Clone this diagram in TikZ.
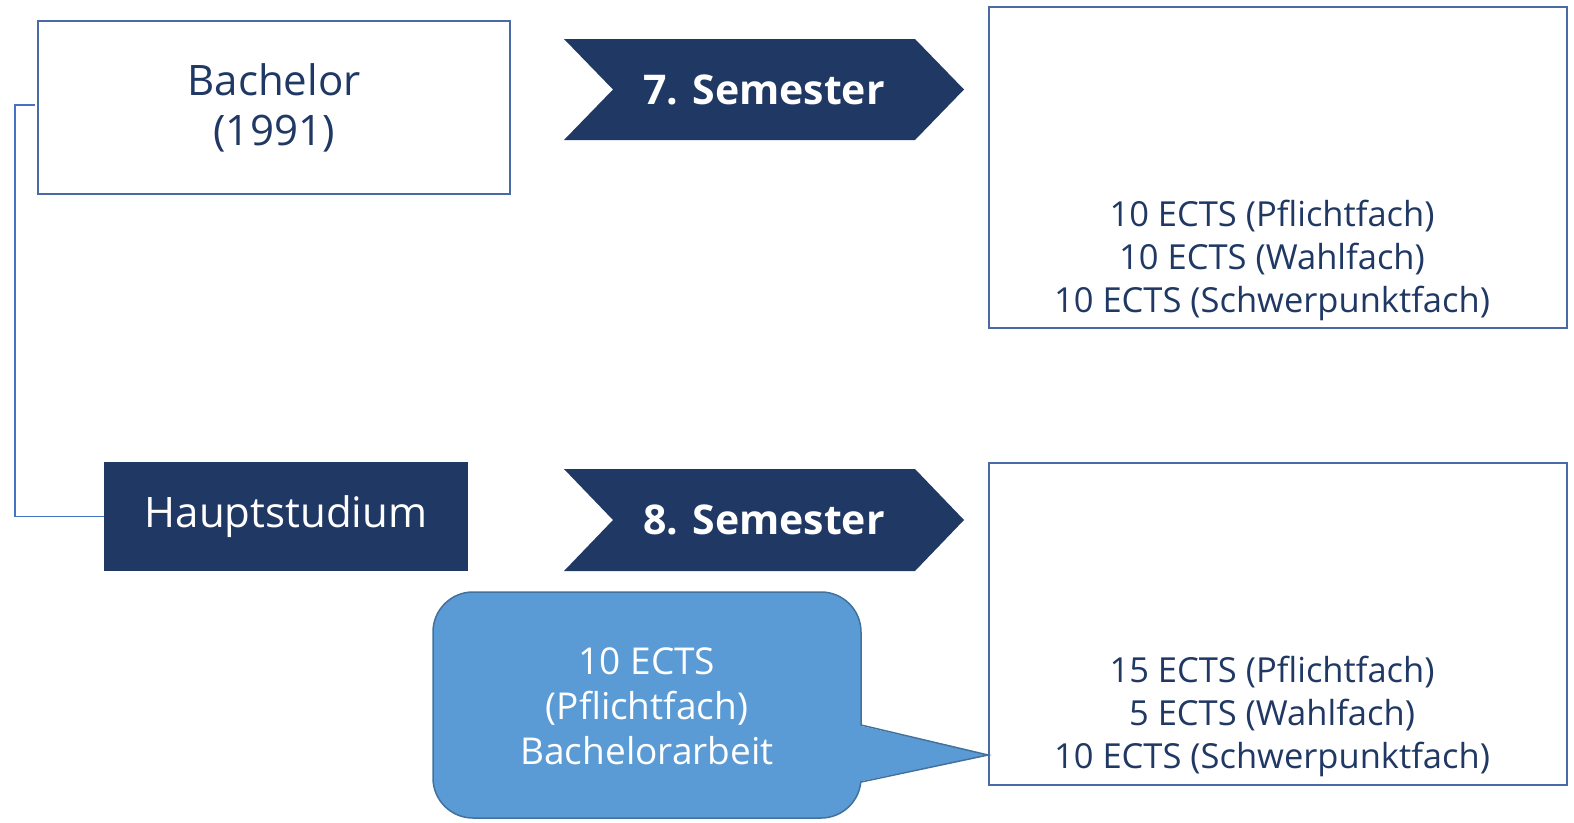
\documentclass[tikz,border=0pt]{standalone}
\usepackage{fontspec}
\setmainfont{Open Sans}
\definecolor{navy}{HTML}{203864}
\definecolor{boxline}{HTML}{4A6AA5}
\definecolor{conline}{HTML}{4472C4}
\definecolor{calfill}{HTML}{5B9BD5}
\definecolor{calline}{HTML}{41719C}
\begin{document}
\begin{tikzpicture}[x=1pt,y=-1pt,
  whitebox/.style={draw=boxline,line width=1.8pt,fill=white,inner sep=0pt},
  navybox/.style={fill=navy,inner sep=0pt,text=white},
  chev/.style={fill=navy},
  chevtext/.style={text=white,font=\fontsize{41}{50}\selectfont\bfseries},
  ectstext/.style={text=navy,align=center,font=\fontsize{34.5}{43}\selectfont},
  connector/.style={draw=conline,line width=1.8pt}]
\useasboundingbox (0,0) rectangle (1574,822);

% Bachelor box
\node[whitebox,minimum width=472pt,minimum height=173pt,text=navy,align=center,
      font=\fontsize{42}{50}\selectfont] (bach) at (274,107.5) {Bachelor\\(1991)};

% Hauptstudium
\node[navybox,minimum width=364pt,minimum height=109pt,
      font=\fontsize{42}{50}\selectfont] (haupt) at (286,516.5) {Hauptstudium};

% connector
\coordinate (cturn) at (15,105);
\draw[connector] (35,105) coordinate (cstart) -- (cturn) |- (haupt.west);

% chevrons
\fill[chev] (564,39) -- (915,39) -- (964,89.5) -- (915,140) -- (564,140) -- (613,89.5) -- cycle;
\node[chevtext] (sem7) at (764,89.5) {7. Semester};
\fill[chev] (564,469) -- (915,469) -- (964,520) -- (915,571) -- (564,571) -- (613,520) -- cycle;
\node[chevtext] (sem8) at (764,520) {8. Semester};

% right boxes
\node[whitebox,minimum width=578pt,minimum height=321pt] (box7) at (1278,167.5) {};
\node[ectstext] (txt7) at (1272,260) {10 ECTS (Pflichtfach)\\10 ECTS (Wahlfach)\\10 ECTS (Schwerpunktfach)};
\node[whitebox,minimum width=578pt,minimum height=322pt] (box8) at (1278,624) {};
\node[ectstext] (txt8) at (1272,716) {15 ECTS (Pflichtfach)\\5 ECTS (Wahlfach)\\10 ECTS (Schwerpunktfach)};

% callout
\node[draw=calline,line width=1.5pt,fill=calfill,rounded corners=40pt,
      minimum width=428pt,minimum height=226pt,inner sep=0pt] (call) at (647,705) {};
\coordinate (ctip) at (box8.west |- 0,755);
\fill[calfill] (857,725) -- (ctip) -- (857,782) -- cycle;
\draw[calline,line width=1.5pt,line join=miter] (861,725) -- (ctip) -- (861,782);
\node[text=white,align=center,font=\fontsize{37}{45}\selectfont] (calltxt) at (647,706)
  {10 ECTS\\(Pflichtfach)\\Bachelorarbeit};
\end{tikzpicture}
\end{document}
